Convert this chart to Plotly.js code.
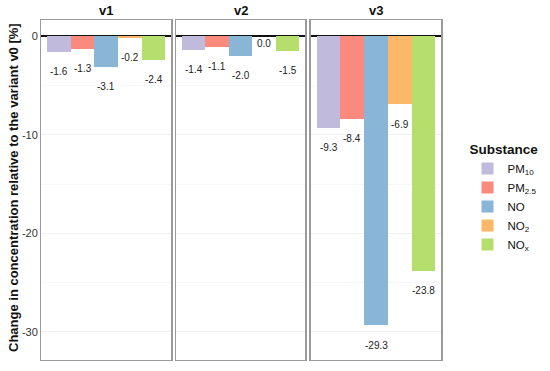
<!DOCTYPE html>
<html>
<head>
<meta charset="utf-8">
<script src="https://cdn.plot.ly/plotly-3.0.1.min.js"></script>
<style>html,body{margin:0;padding:0;background:#fff;}#chart{width:550px;height:371px;}</style>
</head>
<body>
<div id="chart"></div>
<script>
var variants = ['v1', 'v2', 'v3'];
var substances = ['PM10', 'PM2.5', 'NO', 'NO2', 'NOx'];
var substanceLabels = ['PM<sub>10</sub>', 'PM<sub>2.5</sub>', 'NO', 'NO<sub>2</sub>', 'NO<sub>x</sub>'];
var colors = ['#c0bbdc', '#f98a7d', '#89b6d6', '#fdb769', '#b6de6c'];
var v1 = [-1.6, -1.3, -3.1, -0.2, -2.4];
var v2 = [-1.4, -1.1, -2.0, 0.0, -1.5];
var v3 = [-9.3, -8.4, -29.3, -6.9, -23.8];
var values = [v1, v2, v3];
var yTicks = [0, -10, -20, -30];
var yTitle = 'Change in concentration relative to the variant v0 [%]';

var domains = [[0.0751, 0.3115], [0.320, 0.5551], [0.5649, 0.8024]];
var font = 'Liberation Sans, Arial, sans-serif';

var traces = [];
var annotations = [];
var layout = {
  width: 550, height: 371,
  margin: {l: 0, r: 0, t: 0, b: 0},
  paper_bgcolor: '#fff', plot_bgcolor: '#fff',
  font: {family: font, color: '#222'},
  barmode: 'overlay',
  bargap: 0,
  showlegend: true,
  legend: {
    x: 0.85, y: 0.632, xanchor: 'left', yanchor: 'top',
    title: {text: '<b>Substance</b>', font: {size: 13.5, color: '#111'}},
    font: {size: 11.5, color: '#111'},
    tracegroupgap: 0, itemwidth: 30, bgcolor: 'rgba(0,0,0,0)'
  }
};

for (var p = 0; p < variants.length; p++) {
  var sfx = p === 0 ? '' : String(p + 1);
  for (var s = 0; s < substances.length; s++) {
    traces.push({
      type: 'bar',
      x: [substances[s]], y: [values[p][s]],
      xaxis: 'x' + sfx, yaxis: 'y' + sfx,
      name: substanceLabels[s], legendgroup: substances[s],
      showlegend: p === 0,
      marker: {color: colors[s], line: {width: 0}},
      width: 1, opacity: 1,
      hoverinfo: 'skip'
    });
    annotations.push({
      xref: 'x' + sfx, yref: 'y' + sfx,
      x: substances[s], y: values[p][s],
      text: values[p][s].toFixed(1),
      showarrow: false, xanchor: 'center', yanchor: 'middle',
      yshift: values[p][s] < 0 ? -20 : -7,
      font: {size: 10, color: '#222', family: font}
    });
  }
  layout['xaxis' + sfx] = {
    domain: domains[p], anchor: 'y' + sfx,
    type: 'category', categoryorder: 'array', categoryarray: substances,
    range: [-0.75, 4.75], showticklabels: false, ticks: '',
    showgrid: false, zeroline: false,
    showline: true, mirror: true, linecolor: '#9a9a9a', linewidth: 1.3,
    fixedrange: true
  };
  layout['yaxis' + sfx] = {
    domain: [0.0296, 0.946], anchor: 'x' + sfx,
    range: [-32.84, 1.62],
    tickvals: yTicks, ticktext: yTicks.map(String),
    showticklabels: p === 0, ticks: '',
    tickfont: {size: 11, color: '#333'},
    showgrid: true, gridcolor: '#eeeeee', gridwidth: 0.8,
    minor: {dtick: 5, tick0: 0, showgrid: true, gridcolor: '#f3f3f3', gridwidth: 0.6},
    zeroline: true, zerolinecolor: '#111', zerolinewidth: 1.5,
    showline: true, mirror: true, linecolor: '#9a9a9a', linewidth: 1.3,
    fixedrange: true
  };
  if (p > 0) layout['yaxis' + sfx].matches = 'y';
  annotations.push({
    xref: 'paper', yref: 'paper',
    x: (domains[p][0] + domains[p][1]) / 2, y: 1 - 10 / 371,
    text: '<b>' + variants[p] + '</b>', showarrow: false,
    xanchor: 'center', yanchor: 'middle',
    font: {size: 13, color: '#111', family: font}
  });
}
annotations.push({
  xref: 'paper', yref: 'paper',
  x: 14 / 550, y: 1 - 188 / 371,
  text: '<b>' + yTitle + '</b>', textangle: -90, showarrow: false,
  xanchor: 'center', yanchor: 'middle',
  font: {size: 13, color: '#111', family: font}
});
layout.annotations = annotations;

Plotly.newPlot('chart', traces, layout, {displayModeBar: false, staticPlot: true});
</script>
</body>
</html>
